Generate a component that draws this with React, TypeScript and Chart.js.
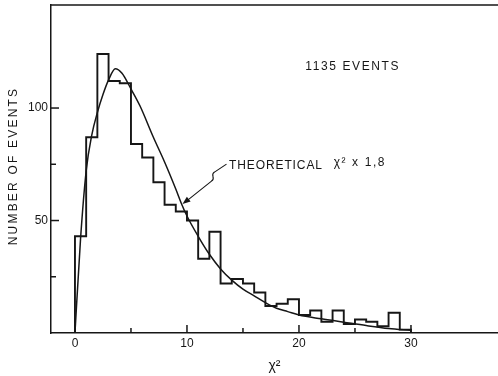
import React, { useEffect, useRef } from "react";
import { Chart, registerables } from "chart.js";

Chart.register(...registerables);

// ---- data ----
const binEdges = [0, 1, 2, 3, 4, 5, 6, 7, 8, 9, 10, 11, 12, 13, 14, 15, 16, 17, 18, 19, 20, 21, 22, 23, 24, 25, 26, 27, 28, 29, 30];
const binCounts = [43, 87, 124, 112, 111, 84, 78, 67, 57, 54, 50, 33, 45, 22, 24, 22, 18, 12, 13, 15, 8, 10, 5, 10, 4, 6, 5, 3, 9, 1.5];

const curveX = [0, 0.5, 1, 1.5, 2, 2.5, 3, 3.6, 4.2, 5, 5.8, 7, 8, 9, 9.5, 10, 11, 12, 13, 14, 15, 16, 17, 18, 19, 20, 22, 24, 26, 28, 30];
const curveY = [0, 42, 72, 88, 98, 106, 112.5, 117.5, 115.5, 108.5, 101, 87, 76, 64, 57.6, 52, 43, 35, 28.5, 23.5, 19.5, 16.5, 13.5, 11, 9.5, 8, 6.3, 4.8, 3.3, 2, 1.2];

const xTickLabels = [0, 10, 20, 30];
const xMinorTicks = [5, 15, 25];
const yTickLabels = [50, 100];
const yMinorTicks = [25, 75];

const X_MIN = -2.14;
const X_MAX = 37.77;
const Y_MIN = 0;
const Y_MAX = 145.8;

const INK = "#161616";
const FONT = "'Liberation Sans', Arial, sans-serif";

const decorPlugin = {
  id: "decor",
  afterDraw(chart: any) {
    const { ctx, chartArea, scales } = chart;
    const xs = scales.x;
    const ys = scales.y;
    ctx.save();
    ctx.strokeStyle = INK;
    ctx.fillStyle = INK;
    ctx.lineWidth = 1.5;
    ctx.lineCap = "butt";

    const seg = (x1: number, y1: number, x2: number, y2: number) => {
      ctx.beginPath();
      ctx.moveTo(x1, y1);
      ctx.lineTo(x2, y2);
      ctx.stroke();
    };

    // top frame line
    seg(chartArea.left, chartArea.top, chartArea.right, chartArea.top);

    // inward tick marks
    const yb = ys.getPixelForValue(0);
    for (const v of xTickLabels) {
      const px = xs.getPixelForValue(v);
      seg(px, yb, px, yb - 8);
    }
    for (const v of xMinorTicks) {
      const px = xs.getPixelForValue(v);
      seg(px, yb, px, yb - 5);
    }
    const xl = chartArea.left;
    for (const v of yTickLabels) {
      const py = ys.getPixelForValue(v);
      seg(xl, py, xl + 8, py);
    }
    for (const v of yMinorTicks) {
      const py = ys.getPixelForValue(v);
      seg(xl, py, xl + 5, py);
    }

    // texts
    ctx.textBaseline = "middle";
    ctx.font = `12px ${FONT}`;
    (ctx as any).letterSpacing = "1.6px";
    ctx.textAlign = "center";
    ctx.fillText("1135 EVENTS", xs.getPixelForValue(24.8), ys.getPixelForValue(118.5));

    (ctx as any).letterSpacing = "0.9px";
    ctx.textAlign = "left";
    ctx.fillText("THEORETICAL", xs.getPixelForValue(13.75), ys.getPixelForValue(74.5));
    (ctx as any).letterSpacing = "1.6px";
    ctx.fillText("χ² x 1,8", xs.getPixelForValue(23.1), ys.getPixelForValue(75.5));

    // y title
    (ctx as any).letterSpacing = "2.2px";
    ctx.save();
    ctx.translate(14, (chartArea.top + chartArea.bottom) / 2 - 3);
    ctx.rotate(-Math.PI / 2);
    ctx.textAlign = "center";
    ctx.font = `12px ${FONT}`;
    ctx.fillText("NUMBER OF EVENTS", 0, 0);
    ctx.restore();

    // x title
    (ctx as any).letterSpacing = "0px";
    ctx.textAlign = "center";
    ctx.font = `14px ${FONT}`;
    ctx.fillText("χ²", (chartArea.left + chartArea.right) / 2, 366);

    // arrow from label to curve
    const tipX = xs.getPixelForValue(9.6);
    const tipY = ys.getPixelForValue(57.3);
    ctx.lineWidth = 1.1;
    ctx.beginPath();
    ctx.moveTo(tipX + 44, tipY - 40);
    ctx.lineTo(tipX + 32, tipY - 32);
    ctx.bezierCurveTo(tipX + 27, tipY - 29, tipX + 34, tipY - 26, tipX + 29, tipY - 23);
    ctx.lineTo(tipX + 3, tipY - 2.2);
    ctx.stroke();
    // arrowhead
    const ang = Math.atan2(-20.8, 26);
    const len = 8;
    const wid = 3;
    const bx = tipX + Math.cos(ang) * len;
    const by = tipY + Math.sin(ang) * len;
    const nx = -Math.sin(ang);
    const ny = Math.cos(ang);
    ctx.beginPath();
    ctx.moveTo(tipX, tipY);
    ctx.lineTo(bx + nx * wid, by + ny * wid);
    ctx.lineTo(bx - nx * wid, by - ny * wid);
    ctx.closePath();
    ctx.fill();

    ctx.restore();
  },
};

export default function App() {
  const canvasRef = useRef<HTMLCanvasElement | null>(null);

  useEffect(() => {
    const canvas = canvasRef.current;
    if (!canvas) return;

    const histData = [
      { x: binEdges[0], y: 0 },
      ...binCounts.map((c, i) => ({ x: binEdges[i], y: c })),
      { x: binEdges[binEdges.length - 1], y: 0 },
    ];
    const curveData = curveX.map((x, i) => ({ x, y: curveY[i] }));

    const chart = new Chart(canvas, {
      type: "line",
      data: {
        datasets: [
          {
            label: "Events",
            data: histData,
            stepped: "before",
            borderColor: INK,
            borderWidth: 1.9,
            pointRadius: 0,
            fill: false,
          },
          {
            label: "Theoretical",
            data: curveData,
            cubicInterpolationMode: "monotone",
            borderColor: INK,
            borderWidth: 1.5,
            pointRadius: 0,
            fill: false,
          },
        ],
      },
      options: {
        responsive: false,
        animation: false,
        events: [],
        layout: { padding: { top: 5, right: 0, left: 0, bottom: 0 } },
        plugins: {
          legend: { display: false },
          tooltip: { enabled: false },
          title: { display: false },
        },
        scales: {
          x: {
            type: "linear",
            min: X_MIN,
            max: X_MAX,
            afterBuildTicks: (scale: any) => {
              scale.ticks = xTickLabels.map((v) => ({ value: v }));
            },
            afterFit: (scale: any) => {
              scale.height = 43;
              scale.paddingLeft = 0;
              scale.paddingRight = 0;
            },
            grid: { display: false, drawTicks: false },
            border: { display: true, color: INK, width: 1.5 },
            ticks: {
              padding: 3,
              color: INK,
              maxRotation: 0,
              autoSkip: false,
              font: { family: FONT, size: 12 },
              callback: (v: any) => String(v),
            },
          },
          y: {
            type: "linear",
            min: Y_MIN,
            max: Y_MAX,
            afterBuildTicks: (scale: any) => {
              scale.ticks = yTickLabels.map((v) => ({ value: v }));
            },
            afterFit: (scale: any) => {
              scale.width = 51;
              scale.paddingTop = 0;
              scale.paddingBottom = 0;
            },
            grid: { display: false, drawTicks: false },
            border: { display: true, color: INK, width: 1.5 },
            ticks: {
              padding: 3,
              color: INK,
              autoSkip: false,
              font: { family: FONT, size: 12 },
              callback: (v: any) => String(v),
            },
          },
        },
      },
      plugins: [decorPlugin],
    } as any);

    return () => {
      chart.destroy();
    };
  }, []);

  return (
    <div style={{ position: "fixed", left: 0, top: 0, width: 498, height: 376, background: "#fff" }}>
      <canvas ref={canvasRef} width={498} height={376} style={{ width: 498, height: 376, display: "block" }} />
    </div>
  );
}
